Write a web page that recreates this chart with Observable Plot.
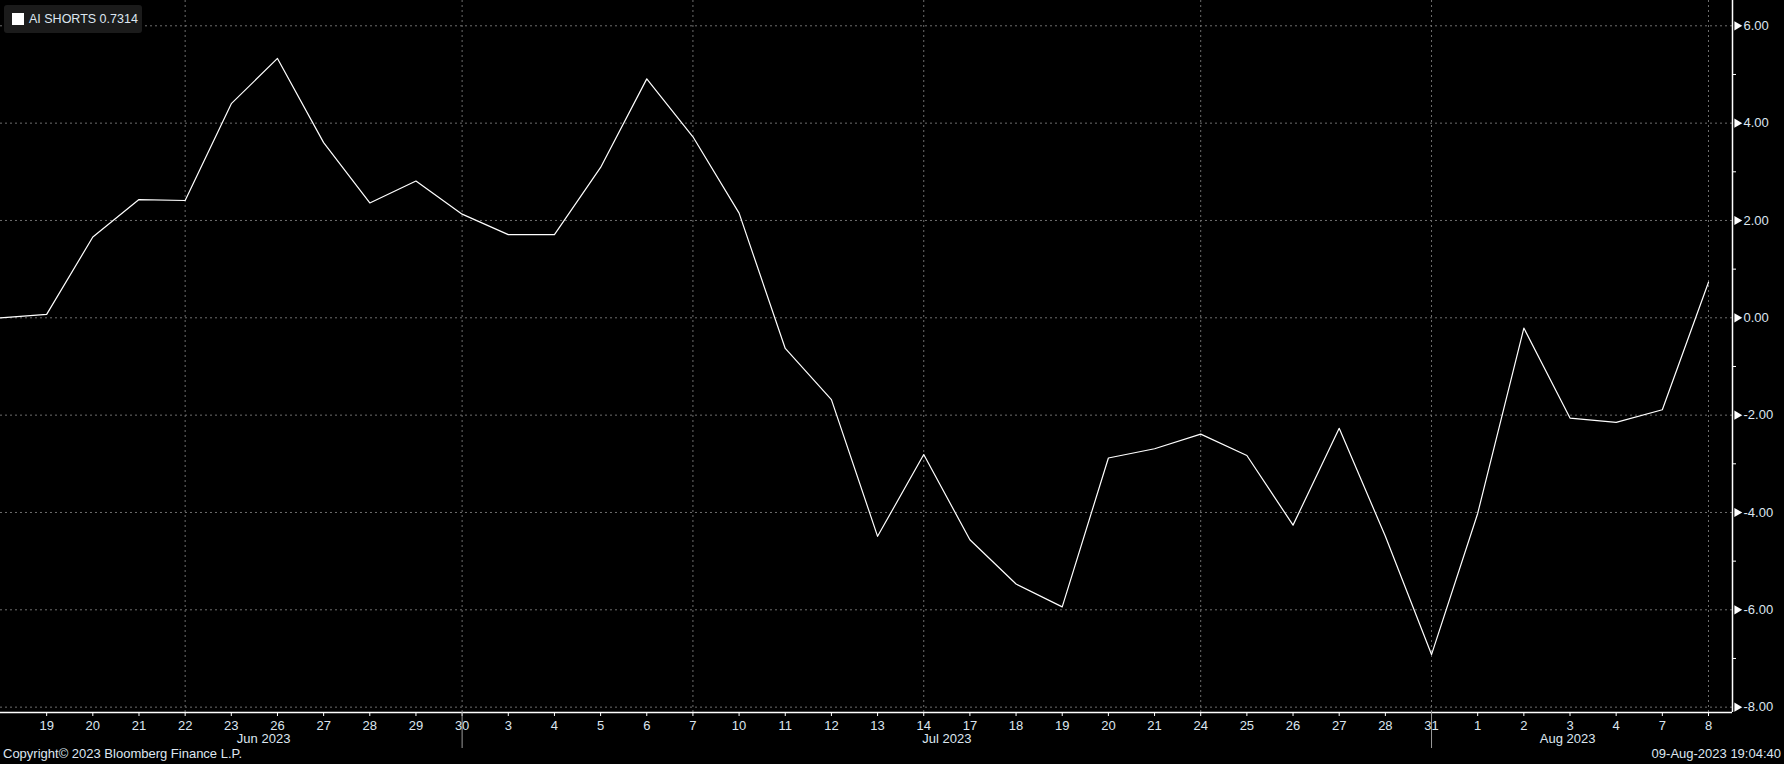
<!DOCTYPE html>
<html>
<head>
<meta charset="utf-8">
<script src="https://cdn.jsdelivr.net/npm/d3@7"></script>
<script src="https://cdn.jsdelivr.net/npm/@observablehq/plot@0.6"></script>
<style>
  html, body { margin: 0; padding: 0; background: #000; }
  #wrap { position: relative; width: 1784px; height: 764px; background: #000; overflow: hidden;
          font-family: "Liberation Sans", Arial, sans-serif; color: #dde6f0; }
  #legend { position: absolute; left: 4px; top: 5px; width: 138px; height: 28px; background: #1b1b1b;
            border-radius: 3px; font-size: 12.5px; }
  #legend .sw { position: absolute; left: 8px; top: 8px; width: 12px; height: 12px; background: #fff; }
  #legend .tx { position: absolute; left: 25px; top: 6px; line-height: 16px; white-space: nowrap; }
  #footL, #footR { position: absolute; top: 746px; height: 16px; line-height: 16px; font-size: 13px; white-space: nowrap; }
  #footL { left: 3px; }
  #footR { right: 3px; }
</style>
</head>
<body>
<div id="wrap">
  <div id="chart"></div>
  <div id="legend"><div class="sw"></div><div class="tx">AI SHORTS 0.7314</div></div>
  <div id="footL">Copyright© 2023 Bloomberg Finance L.P.</div>
  <div id="footR">09-Aug-2023 19:04:40</div>
</div>
<script>
// Trading days (Jun 16 – Aug 8, 2023)
const dayLabels = ["16","19","20","21","22","23","26","27","28","29","30",
  "3","4","5","6","7","10","11","12","13","14","17","18","19","20","21","24","25","26","27","28","31",
  "1","2","3","4","7","8"];
const values = [0.00, 0.07, 1.66, 2.43, 2.41, 4.40, 5.33, 3.60, 2.36, 2.81, 2.13,
  1.71, 1.71, 3.09, 4.91, 3.72, 2.15, -0.63, -1.68, -4.49, -2.81, -4.56, -5.47, -5.94, -2.88, -2.69,
  -2.39, -2.83, -4.26, -2.27, -4.49, -6.92,
  -4.02, -0.21, -2.06, -2.15, -1.89, 0.7314];
const monthNames = ["Jun 2023", "Jul 2023", "Aug 2023"];
const monthFirst = [1, 11, 32];   // index of first labelled day of each month
const monthLast = [10, 31, 37];   // index of last day of each month
const majorTicks = [6, 4, 2, 0, -2, -4, -6, -8];
const minorTicks = [5, 3, 1, -1, -3, -5, -7];
const gridDays = [4, 10, 15, 20, 26, 31, 37];

const data = values.map((v, i) => ({i, v}));
const xmax = 37.52, ymin = -8.11, ymax = 6.52;
const W = 1784, H = 750, mR = 52, mB = 38;
const pxPerIdx = (W - mR) / xmax;
const pxPerUnit = (H - mB) / (ymax - ymin);
const tickIdx = d3.range(1, values.length);
const sepIdx = monthLast.slice(0, 2);
const monthShift = [0.2, 0, -0.55];
const months = monthNames.map((m, k) => ({m,
  x: (k === 1 ? (monthLast[0] + monthLast[1]) / 2 : (monthFirst[k] + monthLast[k]) / 2) + monthShift[k]}));

const grid = "#6e6e6e";
const chart = Plot.plot({
  width: W, height: H,
  marginLeft: 0, marginRight: mR, marginTop: 0, marginBottom: mB,
  style: {background: "#000", color: "#dde6f0", fontFamily: "'Liberation Sans', Arial, sans-serif", fontSize: "13px", overflow: "visible"},
  x: {type: "linear", domain: [0, xmax], axis: null},
  y: {domain: [ymin, ymax], axis: null},
  marks: [
    Plot.ruleY(majorTicks, {x1: 0, x2: xmax, stroke: grid, strokeDasharray: "2,3"}),
    Plot.ruleX(gridDays, {stroke: grid, strokeDasharray: "2,3"}),
    Plot.line(data, {x: "i", y: "v", stroke: "#ffffff", strokeWidth: 1.2}),
    Plot.ruleY([ymin], {stroke: "#fff", strokeWidth: 1.5}),
    Plot.ruleX([xmax], {stroke: "#fff", strokeWidth: 1.5}),
    Plot.axisX(tickIdx, {tickFormat: i => dayLabels[i], tickSize: 4, tickPadding: 4, stroke: "#fff", label: null}),
    Plot.axisY(majorTicks, {anchor: "right", tickSize: 0, tickPadding: 11, tickFormat: d => d.toFixed(2), label: null}),
    Plot.ruleY(minorTicks, {x1: xmax, x2: xmax + 4 / pxPerIdx, stroke: "#fff"}),
    Plot.dot(majorTicks, {x: xmax, y: d => d, symbol: "triangle", rotate: 90, r: 3.4, fill: "#fff", dx: 4.5}),
    Plot.ruleX(sepIdx, {y1: ymin, y2: ymin - 36 / pxPerUnit, stroke: "#9a9a9a"}),
    Plot.text(months, {x: "x", y: ymin, text: "m", dy: 26, fill: "#dde6f0"})
  ]
});
document.getElementById("chart").appendChild(chart);
</script>
</body>
</html>
